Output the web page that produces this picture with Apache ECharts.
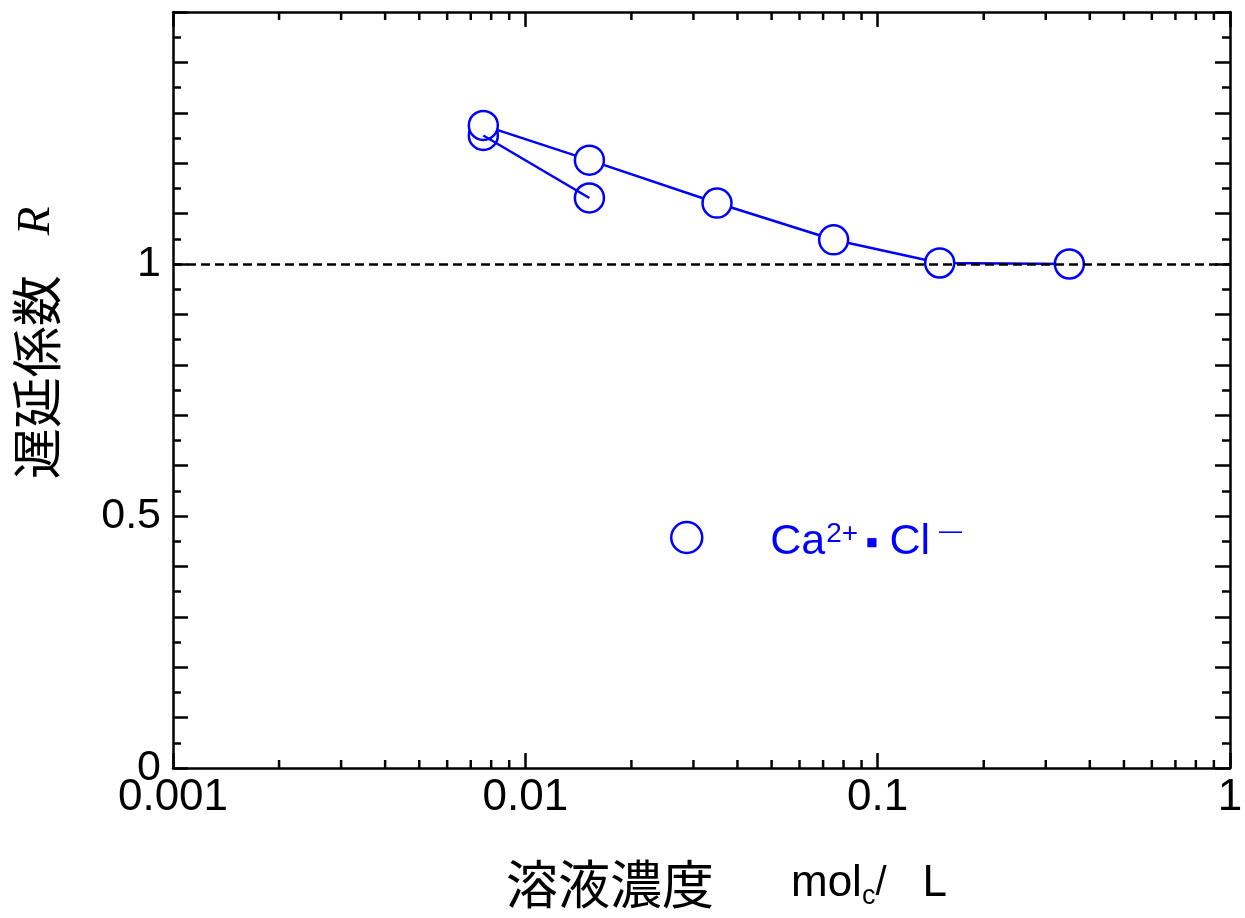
<!DOCTYPE html>
<html>
<head>
<meta charset="utf-8">
<script src="https://cdn.jsdelivr.net/npm/echarts@6/dist/echarts.min.js"></script>
<style>
html,body{margin:0;padding:0;background:#fff;}
#chart{width:1245px;height:918px;}
</style>
</head>
<body>
<div id="chart"></div>
<script>
// ---- data ----
const concA = [0.0076, 0.0152, 0.035, 0.075, 0.15, 0.35];   // mol_c / L
const rA    = [1.275, 1.206, 1.121, 1.048, 1.002, 1.0];
const concB = [0.0076, 0.0152];
const rB    = [1.255, 1.131];
const refLineValue = 1;
const xMin = 0.001, xMax = 1;
const yMin = 0, yMax = 1.5;
const yLabels = [0, 0.5, 1];
const xMinorTicks = [];
[0.001, 0.01, 0.1].forEach(d => { for (let k = 2; k <= 9; k++) xMinorTicks.push(+(d * k).toPrecision(3)); });
const seriesName = 'Ca2+・Cl−';

const BLUE = '#0000ff';
const chart = echarts.init(document.getElementById('chart'), null, {renderer: 'canvas'});

const axisLineStyle = {show: true, onZero: false, lineStyle: {color: '#000', width: 2.5}};
const tickMajor = {show: true, inside: true, length: 15, lineStyle: {color: '#000', width: 2.5}};

const option = {
  animation: false,
  backgroundColor: '#fff',
  grid: {left: 173, right: 15, top: 12, bottom: 150, outerBoundsMode: 'none', containLabel: false},
  xAxis: [
    {
      type: 'log', logBase: 10, min: xMin, max: xMax, position: 'bottom',
      axisLine: axisLineStyle, splitLine: {show: false}, axisTick: tickMajor,
      axisLabel: {show: true, color: '#000', fontFamily: 'Liberation Sans', fontSize: 44, margin: 8,
        formatter: v => String(+(+v).toPrecision(3))}
    },
    {
      type: 'log', logBase: 10, min: xMin, max: xMax, position: 'top',
      axisLine: axisLineStyle, splitLine: {show: false}, axisTick: tickMajor,
      axisLabel: {show: false}
    }
  ],
  yAxis: [
    {
      type: 'value', min: yMin, max: yMax, interval: 0.1, position: 'left',
      axisLine: axisLineStyle, splitLine: {show: false}, axisTick: tickMajor,
      minorTick: {show: true, splitNumber: 2, length: 8, lineStyle: {color: '#000', width: 2.5}},
      minorSplitLine: {show: false},
      axisLabel: {show: true, color: '#000', fontFamily: 'Liberation Sans', fontSize: 43, margin: 12,
        showMaxLabel: true, showMinLabel: true,
        formatter: v => { const r = Math.round(v * 100) / 100; return yLabels.indexOf(r) >= 0 ? String(r) : ''; }}
    },
    {
      type: 'value', min: yMin, max: yMax, interval: 0.1, position: 'right',
      axisLine: axisLineStyle, splitLine: {show: false}, axisTick: tickMajor,
      minorTick: {show: true, splitNumber: 2, length: 8, lineStyle: {color: '#000', width: 2.5}},
      minorSplitLine: {show: false},
      axisLabel: {show: false}
    }
  ],
  legend: {
    show: true,
    data: [{name: seriesName, icon: 'circle', itemStyle: {color: '#fff', borderColor: BLUE, borderWidth: 2.5}}],
    left: 670, top: 520,
    orient: 'horizontal',
    itemWidth: 31, itemHeight: 31,
    padding: 0,
    selectedMode: false,
    formatter: () => '{pad|}{n|Ca}{sup|2+}{dot|■}{n| Cl}{mn|—}',
    textStyle: {
      color: BLUE,
      rich: {
        pad: {width: 63},
        n: {fontFamily: 'Liberation Sans', fontSize: 43, color: BLUE, padding: [10, 0, 0, 0]},
        sup: {fontFamily: 'Liberation Sans', fontSize: 28, color: BLUE, verticalAlign: 'top', padding: [10, 2, 14, 1]},
        mn: {fontFamily: 'Liberation Sans', fontSize: 23, color: BLUE, verticalAlign: 'top', padding: [10, 0, 22, 9]},
        dot: {fontFamily: 'DejaVu Sans', fontSize: 12, color: BLUE, padding: [10, 0, 0, 6]}
      }
    }
  },
  graphic: [
    {
      type: 'text', x: 37, y: 343, rotation: Math.PI / 2,
      style: {
        text: '{c|遅延係数}{r|R}',
        align: 'center', verticalAlign: 'middle',
        rich: {
          c: {fontFamily: 'Noto Sans CJK JP', fontSize: 51, fill: '#000', color: '#000'},
          r: {fontFamily: 'Liberation Serif', fontStyle: 'italic', fontSize: 47, fill: '#000', color: '#000', padding: [0, 0, 0, 40]}
        }
      }
    },
    {
      type: 'text', x: 506, y: 884,
      style: {
        text: '{c|溶液濃度}{b|mol}{s|c}{sl|/}{b|L}',
        align: 'left', verticalAlign: 'middle',
        rich: {
          c: {fontFamily: 'Noto Sans CJK JP', fontSize: 52, fill: '#000', color: '#000', padding: [0, 77, 0, 0]},
          b: {fontFamily: 'Liberation Sans', fontSize: 44, fill: '#000', color: '#000'},
          s: {fontFamily: 'Liberation Sans', fontSize: 27, fill: '#000', color: '#000', verticalAlign: 'bottom', padding: [14, 0, 0, 0]},
          sl: {fontFamily: 'Liberation Sans', fontSize: 40, fill: '#000', color: '#000', padding: [0, 36, 0, 0]}
        }
      }
    }
  ],
  series: [
    {
      name: 'minorTicksX', type: 'custom', xAxisIndex: 0, yAxisIndex: 0, silent: true, clip: false, z: 5,
      data: xMinorTicks.map(v => [v, yMin]),
      renderItem: (params, api) => {
        const v = api.value(0);
        const pb = api.coord([v, yMin]);
        const pt = api.coord([v, yMax]);
        return {
          type: 'group',
          children: [
            {type: 'line', shape: {x1: pb[0], y1: pb[1], x2: pb[0], y2: pb[1] - 8}, style: {stroke: '#000', lineWidth: 2.5}},
            {type: 'line', shape: {x1: pt[0], y1: pt[1], x2: pt[0], y2: pt[1] + 8}, style: {stroke: '#000', lineWidth: 2.5}}
          ]
        };
      }
    },
    {
      name: seriesName, type: 'line', xAxisIndex: 0, yAxisIndex: 0, z: 3,
      data: concA.map((c, i) => [c, rA[i]]),
      symbol: 'circle', symbolSize: 29, showSymbol: true,
      lineStyle: {color: BLUE, width: 2.5},
      itemStyle: {color: '#fff', borderColor: BLUE, borderWidth: 2.5, opacity: 1},
      markLine: {
        silent: true, symbol: ['none', 'none'], label: {show: false},
        lineStyle: {color: '#000', type: [9, 5], width: 2.5, opacity: 1},
        data: [{yAxis: refLineValue}]
      }
    },
    {
      name: 'seriesBPoints', type: 'scatter', xAxisIndex: 0, yAxisIndex: 0, z: 2,
      data: concB.map((c, i) => [c, rB[i]]),
      symbol: 'circle', symbolSize: 29,
      itemStyle: {color: '#fff', borderColor: BLUE, borderWidth: 2.5, opacity: 1}
    },
    {
      name: 'seriesBLine', type: 'line', xAxisIndex: 0, yAxisIndex: 0, z: 4,
      data: concB.map((c, i) => [c, rB[i]]),
      showSymbol: false, symbol: 'none',
      lineStyle: {color: BLUE, width: 2.5}
    }
  ]
};
chart.setOption(option);
</script>
</body>
</html>
